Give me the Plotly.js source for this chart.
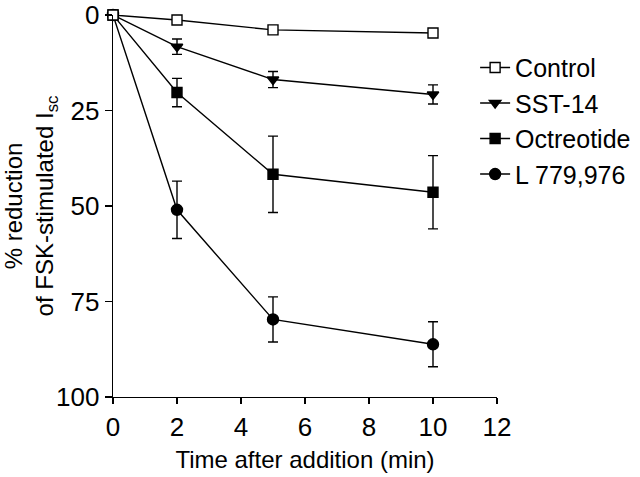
<!DOCTYPE html>
<html><head><meta charset="utf-8">
<script src="https://cdn.plot.ly/plotly-3.0.1.min.js"></script>
<style>body{margin:0;background:#fff}#plot{width:640px;height:477px}</style>
</head><body><div id="plot"></div>
<script>
const times = [0, 2, 5, 10];
const seriesNames = ["Control", "SST-14", "Octreotide", "L 779,976"];
const controlVals = [0, 1.3, 3.9, 4.7];
const controlErr = [0, 0, 0, 0];
const sstVals = [0, 8.3, 16.9, 20.8];
const sstErr = [0, 2.0, 2.1, 2.5];
const octVals = [0, 20.3, 41.7, 46.4];
const octErr = [0, 3.7, 10.0, 9.6];
const lVals = [0, 51.0, 79.7, 86.2];
const lErr = [0, 7.5, 5.9, 5.9];
const xTicks = [0, 2, 4, 6, 8, 10, 12];
const yTicks = [0, 25, 50, 75, 100];

const font = {family: "Liberation Sans, Arial, sans-serif", color: "#000"};
function tr(name, y, err, symbol, fill, size) {
  return {
    x: times, y: y, name: name, type: "scatter", mode: "lines+markers",
    line: {color: "#000", width: 1.4},
    marker: {symbol: symbol, size: size, color: fill, line: {color: "#000", width: 1.4}},
    error_y: {type: "data", array: err, visible: true, color: "#000", thickness: 1.4, width: 5},
    cliponaxis: false
  };
}
const data = [
  tr(seriesNames[3], lVals, lErr, "circle", "#000", 11),
  tr(seriesNames[2], octVals, octErr, "square", "#000", 10),
  tr(seriesNames[1], sstVals, sstErr, "triangle-down", "#000", 10),
  tr(seriesNames[0], controlVals, controlErr, "square", "#fff", 10)
];
const layout = {
  width: 640, height: 477,
  margin: {l: 113, r: 143, t: 15, b: 80, autoexpand: false},
  paper_bgcolor: "#fff", plot_bgcolor: "#fff",
  font: Object.assign({size: 24}, font),
  showlegend: true,
  legend: {x: 0.943, y: 0.922, xanchor: "left", yanchor: "top", traceorder: "reversed",
           font: Object.assign({size: 25}, font), tracegroupgap: 0, bgcolor: "rgba(0,0,0,0)"},
  xaxis: {
    range: [0, 12], tickvals: xTicks, ticktext: xTicks.map(String),
    showline: true, linecolor: "#000", linewidth: 1.4, showgrid: false, zeroline: false,
    ticks: "outside", ticklen: 6, tickwidth: 1.4, tickcolor: "#000",
    tickfont: Object.assign({size: 26}, font), ticklabeloverflow: "allow",
    title: {text: "Time after addition (min)", font: Object.assign({size: 24}, font), standoff: 10}
  },
  yaxis: {
    range: [100, 0], tickvals: yTicks, ticktext: yTicks.map(String),
    showline: true, linecolor: "#000", linewidth: 1.4, showgrid: false, zeroline: false,
    ticks: "outside", ticklen: 7, tickwidth: 1.4, tickcolor: "#000",
    tickfont: Object.assign({size: 26}, font), ticklabeloverflow: "allow",
    title: {text: "% reduction<br>of FSK-stimulated I<sub>sc</sub>", font: Object.assign({size: 24}, font), standoff: 2}
  }
};
Plotly.newPlot("plot", data, layout, {displayModeBar: false, staticPlot: true});
</script></body></html>
